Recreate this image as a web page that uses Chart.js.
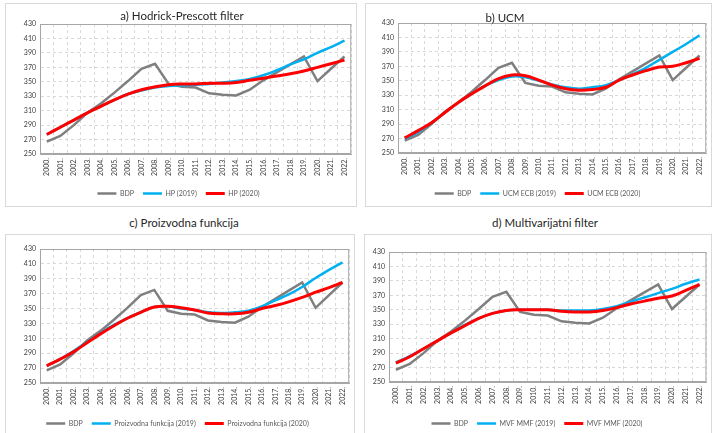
<!DOCTYPE html>
<html>
<head>
  <title>Potencijalni BDP</title>
  <script src="https://cdn.jsdelivr.net/npm/chart.js"></script>
  <style>
    body { margin: 0; background: #fff; width: 717px; height: 433px; overflow: hidden; position: relative; font-family: Lato, "Open Sans", sans-serif; }
    .box { position: absolute; border: 1px solid #d9d9d9; box-sizing: border-box; }
    .panel { position: absolute; }
    .title { position: absolute; font-size: 11.5px; color: #262626; transform: translate(-50%, -50%); white-space: nowrap; }
  </style>
</head>
<body>
  <div class="box" style="left:5px;top:3px;width:352px;height:204px"></div>
  <div class="box" style="left:365px;top:3px;width:347px;height:204px"></div>
  <div class="box" style="left:5px;top:234px;width:350px;height:210px"></div>
  <div class="box" style="left:364px;top:234px;width:348px;height:210px"></div>

  <div class="panel" style="left:5px;top:3px;width:352px;height:204px"><canvas id="chA"></canvas></div>
  <div class="panel" style="left:365px;top:3px;width:347px;height:204px"><canvas id="chB"></canvas></div>
  <div class="panel" style="left:5px;top:234px;width:350px;height:203px"><canvas id="chC"></canvas></div>
  <div class="panel" style="left:364px;top:234px;width:348px;height:203px"><canvas id="chD"></canvas></div>

  <div class="title" style="left:182px;top:15px">a) Hodrick-Prescott filter</div>
  <div class="title" style="left:505px;top:17px">b) UCM</div>
  <div class="title" style="left:184px;top:222px">c) Proizvodna funkcija</div>
  <div class="title" style="left:545px;top:222px">d) Multivarijatni filter</div>

  <script>
    const years = ['2000.', '2001.', '2002.', '2003.', '2004.', '2005.', '2006.', '2007.', '2008.', '2009.', '2010.',
      '2011.', '2012.', '2013.', '2014.', '2015.', '2016.', '2017.', '2018.', '2019.', '2020.', '2021.', '2022.'];

    const bdp = [267, 275, 290, 307, 320, 335, 351, 368, 375, 347, 343, 342, 334, 332, 331, 339, 352, 363, 374, 385, 351, 368, 385];

    const hp2019 = [277, 287, 297, 307, 316, 325, 333, 338, 342, 344, 345, 346, 347, 349, 351, 354, 359, 366, 374, 381, 390, 398, 407];
    const hp2020 = [277, 287, 297, 307, 316, 325, 333, 339, 343, 346, 347, 347, 348, 348, 349, 352, 355, 358, 361, 365, 370, 375, 380];

    const ucm2019 = [270, 279, 292, 306, 320, 332, 343, 351, 356, 355, 350, 345, 341, 339, 341, 344, 351, 359, 368, 379, 390, 401, 413];
    const ucm2020 = [271, 281, 292, 306, 320, 332, 343, 353, 358, 357, 351, 344, 339, 337, 338, 341, 351, 358, 364, 369, 370, 375, 381];

    const pf2019 = [273, 282, 293, 305, 317, 328, 337, 345, 352, 353, 350, 348, 345, 344, 345, 347, 353, 361, 369, 379, 391, 402, 412];
    const pf2020 = [273, 282, 292, 304, 316, 327, 337, 345, 352, 353, 351, 348, 344, 343, 343, 345, 350, 354, 359, 365, 372, 378, 385];

    const mvf2019 = [277, 286, 296, 307, 318, 329, 338, 345, 349, 350, 350, 350, 349, 349, 349, 351, 355, 361, 367, 373, 379, 386, 392];
    const mvf2020 = [276, 285, 296, 307, 318, 328, 338, 345, 349, 350, 350, 350, 348, 347, 347, 349, 353, 358, 362, 366, 369, 377, 385];

    const GRAY = '#7f7f7f', BLUE = '#00b0f0', RED = '#ff0000';
    const tickFont = { family: 'Lato, "Open Sans", sans-serif', size: 7 };

    // plot area frame
    const framePlugin = {
      id: 'frame',
      afterDraw(chart) {
        const a = chart.chartArea, ctx = chart.ctx;
        ctx.save();
        ctx.strokeStyle = '#a6a6a6';
        ctx.lineWidth = 1;
        ctx.strokeRect(a.left + 0.5, a.top + 0.5, a.right - a.left - 1, a.bottom - a.top - 1);
        ctx.restore();
      }
    };

    function makeChart(id, label2019, label2020, d2019, d2020, pad, yWidth, xHeight) {
      new Chart(document.getElementById(id), {
        type: 'line',
        data: {
          labels: years,
          datasets: [
            { label: 'BDP', data: bdp, borderColor: GRAY, backgroundColor: GRAY, borderWidth: 2.5, tension: 0, order: 2 },
            { label: label2019, data: d2019, borderColor: BLUE, backgroundColor: BLUE, borderWidth: 2.5, tension: 0.4, order: 1 },
            { label: label2020, data: d2020, borderColor: RED, backgroundColor: RED, borderWidth: 3, tension: 0.4, order: 0 }
          ]
        },
        options: {
          responsive: true,
          maintainAspectRatio: false,
          animation: false,
          elements: { point: { radius: 0 } },
          layout: { padding: pad },
          plugins: {
            legend: {
              position: 'bottom',
              labels: {
                usePointStyle: true, pointStyle: 'line', pointStyleWidth: 19, boxHeight: 7,
                padding: 9, color: '#595959', font: tickFont,
                sort: (a, b) => a.datasetIndex - b.datasetIndex
              }
            },
            tooltip: { enabled: false }
          },
          scales: {
            x: {
              offset: true,
              grid: { color: '#d9d9d9', offset: true, tickLength: 0 },
              border: { color: '#a6a6a6', dash: [3, 3] },
              ticks: { color: '#404040', font: tickFont, minRotation: 90, maxRotation: 90, autoSkip: false, padding: 4 },
              afterFit: s => { s.height = xHeight; }
            },
            y: {
              min: 250, max: 430,
              grid: { color: '#d9d9d9', tickLength: 0 },
              border: { color: '#a6a6a6', dash: [3, 3] },
              ticks: { stepSize: 20, color: '#404040', font: tickFont, padding: 4 },
              afterFit: s => { s.width = yWidth; }
            }
          }
        },
        plugins: [framePlugin]
      });
    }

    makeChart('chA', 'HP (2019)', 'HP (2020)', hp2019, hp2020, { top: 21, right: 5, left: 0, bottom: 0 }, 35, 27);
    makeChart('chB', 'UCM ECB (2019)', 'UCM ECB (2020)', ucm2019, ucm2020, { top: 20, right: 2, left: 0, bottom: 0 }, 33, 28);
    makeChart('chC', 'Proizvodna funkcija (2019)', 'Proizvodna funkcija (2020)', pf2019, pf2020, { top: 15, right: 5, left: 0, bottom: 0 }, 35, 28);
    makeChart('chD', 'MVF MMF (2019)', 'MVF MMF (2020)', mvf2019, mvf2020, { top: 18, right: 2, left: 0, bottom: 0 }, 25, 29);
  </script>
</body>
</html>
